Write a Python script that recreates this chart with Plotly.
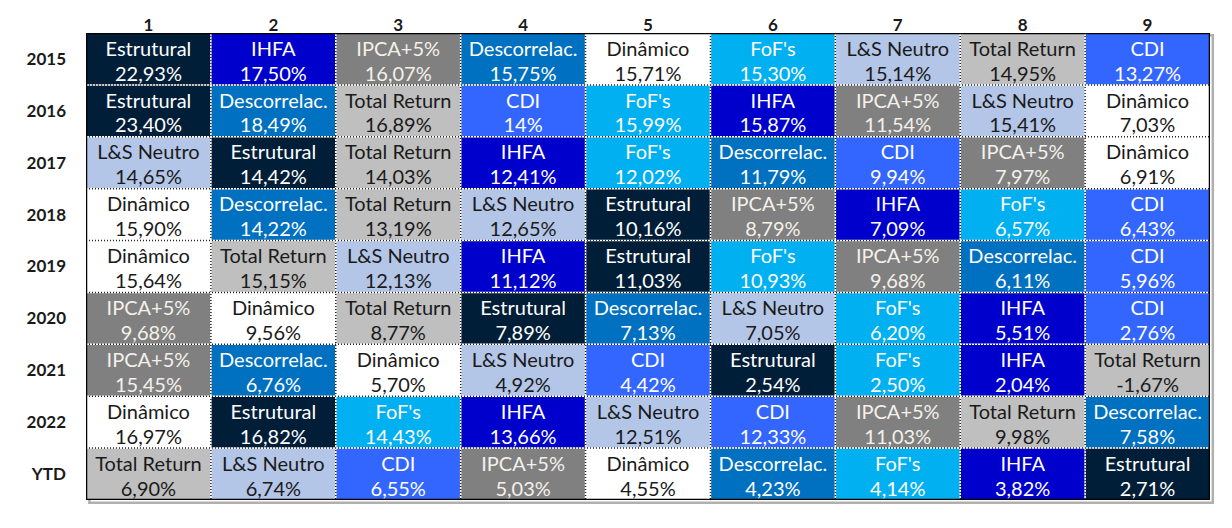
import plotly.graph_objects as go

# Ranking table: funds ordered by annual return, per year
years = ['2015', '2016', '2017', '2018', '2019', '2020', '2021', '2022', 'YTD']
ranks = ['1', '2', '3', '4', '5', '6', '7', '8', '9']

names_2015 = ['Estrutural', 'IHFA', 'IPCA+5%', 'Descorrelac.', 'Dinâmico', "FoF's", 'L&S Neutro', 'Total Return', 'CDI']
names_2016 = ['Estrutural', 'Descorrelac.', 'Total Return', 'CDI', "FoF's", 'IHFA', 'IPCA+5%', 'L&S Neutro', 'Dinâmico']
names_2017 = ['L&S Neutro', 'Estrutural', 'Total Return', 'IHFA', "FoF's", 'Descorrelac.', 'CDI', 'IPCA+5%', 'Dinâmico']
names_2018 = ['Dinâmico', 'Descorrelac.', 'Total Return', 'L&S Neutro', 'Estrutural', 'IPCA+5%', 'IHFA', "FoF's", 'CDI']
names_2019 = ['Dinâmico', 'Total Return', 'L&S Neutro', 'IHFA', 'Estrutural', "FoF's", 'IPCA+5%', 'Descorrelac.', 'CDI']
names_2020 = ['IPCA+5%', 'Dinâmico', 'Total Return', 'Estrutural', 'Descorrelac.', 'L&S Neutro', "FoF's", 'IHFA', 'CDI']
names_2021 = ['IPCA+5%', 'Descorrelac.', 'Dinâmico', 'L&S Neutro', 'CDI', 'Estrutural', "FoF's", 'IHFA', 'Total Return']
names_2022 = ['Dinâmico', 'Estrutural', "FoF's", 'IHFA', 'L&S Neutro', 'CDI', 'IPCA+5%', 'Total Return', 'Descorrelac.']
names_ytd = ['Total Return', 'L&S Neutro', 'CDI', 'IPCA+5%', 'Dinâmico', 'Descorrelac.', "FoF's", 'IHFA', 'Estrutural']

ret_2015 = ['22,93%', '17,50%', '16,07%', '15,75%', '15,71%', '15,30%', '15,14%', '14,95%', '13,27%']
ret_2016 = ['23,40%', '18,49%', '16,89%', '14%', '15,99%', '15,87%', '11,54%', '15,41%', '7,03%']
ret_2017 = ['14,65%', '14,42%', '14,03%', '12,41%', '12,02%', '11,79%', '9,94%', '7,97%', '6,91%']
ret_2018 = ['15,90%', '14,22%', '13,19%', '12,65%', '10,16%', '8,79%', '7,09%', '6,57%', '6,43%']
ret_2019 = ['15,64%', '15,15%', '12,13%', '11,12%', '11,03%', '10,93%', '9,68%', '6,11%', '5,96%']
ret_2020 = ['9,68%', '9,56%', '8,77%', '7,89%', '7,13%', '7,05%', '6,20%', '5,51%', '2,76%']
ret_2021 = ['15,45%', '6,76%', '5,70%', '4,92%', '4,42%', '2,54%', '2,50%', '2,04%', '-1,67%']
ret_2022 = ['16,97%', '16,82%', '14,43%', '13,66%', '12,51%', '12,33%', '11,03%', '9,98%', '7,58%']
ret_ytd = ['6,90%', '6,74%', '6,55%', '5,03%', '4,55%', '4,23%', '4,14%', '3,82%', '2,71%']

names = [names_2015, names_2016, names_2017, names_2018, names_2019,
         names_2020, names_2021, names_2022, names_ytd]
returns = [ret_2015, ret_2016, ret_2017, ret_2018, ret_2019,
           ret_2020, ret_2021, ret_2022, ret_ytd]

# Fill and text colour per fund
funds = ['Estrutural', 'IHFA', 'IPCA+5%', 'Descorrelac.', 'Dinâmico',
         "FoF's", 'L&S Neutro', 'Total Return', 'CDI']
fill = ['#001E38', '#0000CC', '#808080', '#0070C0', '#FFFFFF',
        '#00B0F0', '#B4C6E7', '#BFBFBF', '#3366FF']
ink = ['#FFFFFF', '#FFFFFF', '#F4F1EA', '#FFFFFF', '#1A1A1A',
       '#FFFFFF', '#1A1A1A', '#1A1A1A', '#FFFFFF']

FONT = 'Lato'

z = [[funds.index(n) for n in row] for row in names]
n_f = len(funds)
colorscale = [[i / (n_f - 1), c] for i, c in enumerate(fill)]

fig = go.Figure()

fig.add_trace(go.Heatmap(
    z=z,
    x=list(range(len(ranks))),
    y=list(range(len(years))),
    colorscale=colorscale,
    zmin=0, zmax=n_f - 1,
    showscale=False,
    hoverinfo='skip',
))

# cell labels: fund name on top line, return below
xs, ys, name_txt, ret_txt, colors = [], [], [], [], []
for r, (row_n, row_v) in enumerate(zip(names, returns)):
    for c, (n, v) in enumerate(zip(row_n, row_v)):
        xs.append(c)
        ys.append(r)
        name_txt.append(n)
        ret_txt.append(v)
        colors.append(ink[funds.index(n)])

fig.add_trace(go.Scatter(
    x=xs, y=[y - 0.16 for y in ys], text=name_txt, mode='text',
    textfont=dict(family=FONT, size=20, color=colors),
    hoverinfo='skip', showlegend=False,
))
fig.add_trace(go.Scatter(
    x=xs, y=[y + 0.32 for y in ys], text=ret_txt, mode='text',
    textfont=dict(family=FONT, size=20, color=colors),
    hoverinfo='skip', showlegend=False,
))

# dotted cell borders + heavy outer frame
shapes = []
grid = dict(color='white', width=1.5)
dots = dict(color='#222', width=1.5, dash='1px,2px')
for i in range(1, len(ranks)):
    for ln in (grid, dots):
        shapes.append(dict(type='line', xref='x', yref='y', x0=i - 0.5, x1=i - 0.5,
                           y0=-0.5, y1=len(years) - 0.5, line=ln, layer='above'))
for j in range(1, len(years)):
    for ln in (grid, dots):
        shapes.append(dict(type='line', xref='x', yref='y', y0=j - 0.5, y1=j - 0.5,
                           x0=-0.5, x1=len(ranks) - 0.5, line=ln, layer='above'))
# soft shadow, then frame
shapes.append(dict(type='rect', xref='paper', yref='paper', x0=0.003, x1=1.0025,
                   y0=-0.006, y1=0.995, line=dict(color='#B0B0B0', width=2.5), layer='below'))
shapes.append(dict(type='rect', xref='x', yref='y', x0=-0.5, x1=len(ranks) - 0.5,
                   y0=-0.5, y1=len(years) - 0.5,
                   line=dict(color='black', width=2.5), layer='above'))

# page body has an 8px margin, so the figure is sized to fit inside the window
fig.update_layout(
    width=1216, height=512,
    margin=dict(l=78, r=14, t=25, b=20),
    paper_bgcolor='white',
    plot_bgcolor='white',
    shapes=shapes,
    showlegend=False,
    xaxis=dict(
        side='top', range=[-0.5, len(ranks) - 0.5],
        tickvals=list(range(len(ranks))), ticktext=ranks,
        tickfont=dict(family=FONT, size=17, color='#1A1A1A', weight='bold'),
        ticks='', ticklabelstandoff=-2, automargin=False,
        showgrid=False, zeroline=False, showline=False, fixedrange=True,
    ),
    yaxis=dict(
        range=[len(years) - 0.5, -0.5],
        tickvals=list(range(len(years))), ticktext=years,
        tickfont=dict(family=FONT, size=17, color='#1A1A1A', weight='bold'),
        ticks='', ticklabelstandoff=19, automargin=False,
        showgrid=False, zeroline=False, showline=False, fixedrange=True,
    ),
)

fig.write_html('out.html')
